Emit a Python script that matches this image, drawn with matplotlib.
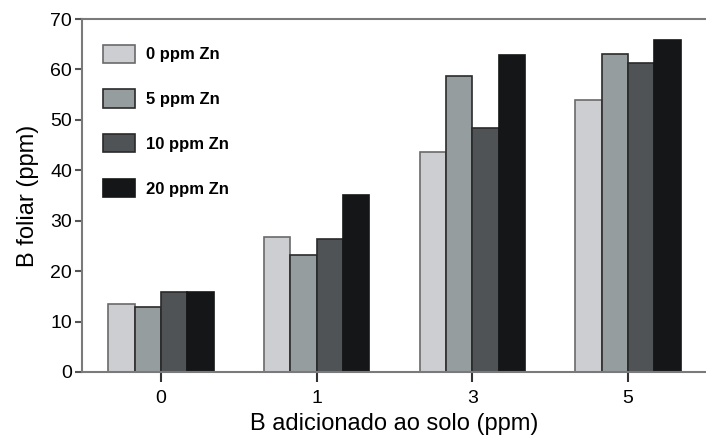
import matplotlib
matplotlib.use("Agg")
import matplotlib.pyplot as plt
import numpy as np
from matplotlib import font_manager

# data
b_soil = ["0", "1", "3", "5"]
series = ["0 ppm Zn", "5 ppm Zn", "10 ppm Zn", "20 ppm Zn"]
zn_0 = [13.5, 26.7, 43.6, 54.0]
zn_5 = [12.8, 23.2, 58.6, 63.1]
zn_10 = [15.8, 26.3, 48.4, 61.2]
zn_20 = [15.8, 35.0, 62.8, 65.8]

face_colors = ["#cdced2", "#969d9e", "#4f5356", "#151617"]
edge_colors = ["#6a6a6a", "#2a2a2a", "#2a2a2a", "#151617"]

names = {f.name for f in font_manager.fontManager.ttflist}
base_font = "Liberation Sans Narrow" if "Liberation Sans Narrow" in names else "Liberation Sans"
plt.rcParams["font.family"] = [base_font, "DejaVu Sans"]


def main():
    fig = plt.figure(figsize=(7.06, 4.44), dpi=100)
    ax = fig.add_axes([0.1161, 0.1622, 0.8839, 0.795])

    x = np.arange(len(b_soil))
    width = 0.169
    values = [zn_0, zn_5, zn_10, zn_20]
    for i, vals in enumerate(values):
        ax.bar(x + (i - 1.5) * width, vals, width, color=face_colors[i],
               edgecolor=edge_colors[i], linewidth=1.2, label=series[i])

    ax.set_xlim(-0.507, 3.5)
    ax.set_ylim(0, 70)
    ax.set_yticks(range(0, 71, 10))
    ax.set_xticks(x)
    ax.set_xticklabels(b_soil)

    for side in ["top", "left", "bottom"]:
        ax.spines[side].set_color("#7a7a7a")
        ax.spines[side].set_linewidth(1.5)
    ax.spines["right"].set_visible(False)

    ax.tick_params(axis="y", direction="out", length=5, width=1.5, color="#555555",
                   labelsize=14, pad=2)
    ax.tick_params(axis="x", direction="out", length=7, width=1.5, color="#333333",
                   labelsize=14, pad=6)

    ax.set_xlabel("B adicionado ao solo (ppm)", fontsize=17, labelpad=4)
    ax.set_ylabel("B foliar (ppm)", fontsize=17, labelpad=8)

    ax.legend(loc="upper left", bbox_to_anchor=(0.01, 0.97), frameon=False,
              handlelength=1.9, handleheight=1.3, labelspacing=1.6,
              handletextpad=0.65, prop={"size": 12, "weight": "bold"})

    fig.savefig("out.png", dpi=100)


if __name__ == "__main__":
    main()
